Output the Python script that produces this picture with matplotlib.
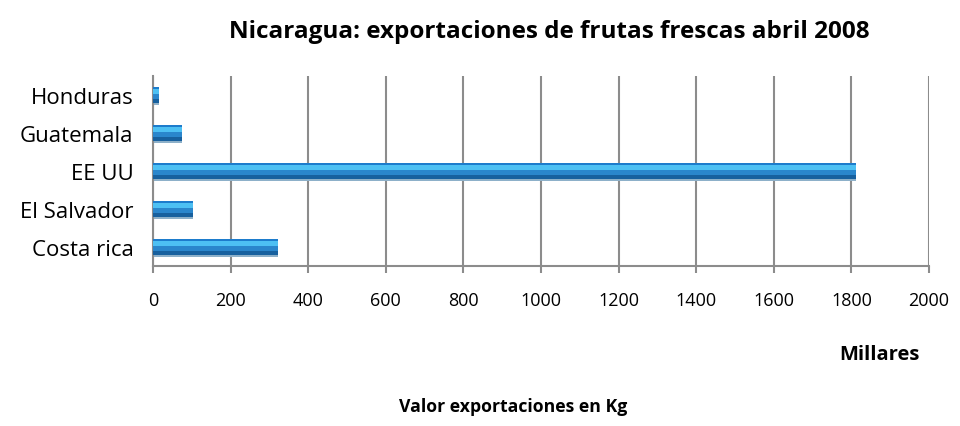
import numpy as np
import matplotlib.pyplot as plt

plt.rcParams['font.family'] = ['Open Sans', 'DejaVu Sans']

countries = ['Costa rica', 'El Salvador', 'EE UU', 'Guatemala', 'Honduras']
values = [323, 102, 1813, 76, 16]
xticks = [0, 200, 400, 600, 800, 1000, 1200, 1400, 1600, 1800, 2000]

fig = plt.figure(figsize=(9.6, 4.27), dpi=100)
ax = fig.add_axes([153 / 960, 1 - 267 / 427, 776 / 960, 190 / 427])

y = np.arange(len(countries))
h = 0.42
# shadow + stacked bands to fake the bevelled 3D bars
ax.barh(y - 0.06, values, height=h, color='#8db0c9', zorder=2)
ax.barh(y, values, height=h, color='#17609e', zorder=3)
ax.barh(y + 0.05, values, height=0.32, color='#2a86cc', zorder=4)
ax.barh(y + 0.1, values, height=0.16, color='#4dc0f3', zorder=5)
ax.barh(y + 0.19, values, height=0.04, color='#1d7ccc', zorder=6)

ax.set_xlim(0, 2000)
ax.set_ylim(-0.5, 4.5)
ax.set_xticks(xticks)
ax.set_xticklabels([str(v) for v in xticks], fontsize=13)
ax.set_yticks(y)
ax.set_yticklabels(countries, fontsize=16)
ax.tick_params(axis='y', length=0, pad=14)
ax.tick_params(axis='x', length=5, color='#8c8c8c', width=1.5, pad=13)

ax.grid(axis='x', color='#8c8c8c', linewidth=1.5, zorder=0)
ax.set_axisbelow(True)
for s in ['top', 'right']:
    ax.spines[s].set_visible(False)
for s in ['left', 'bottom']:
    ax.spines[s].set_color('#8c8c8c')
    ax.spines[s].set_linewidth(1.5)

fig.text(549 / 960, 1 - 32 / 427, 'Nicaragua: exportaciones de frutas frescas abril 2008',
         ha='center', va='center', fontsize=17.5, fontweight='bold')
fig.text(879 / 960, 1 - 355 / 427, 'Millares', ha='center', va='center',
         fontsize=14.5, fontweight='bold')
fig.text(513 / 960, 1 - 407 / 427, 'Valor exportaciones en Kg', ha='center', va='center',
         fontsize=12.7, fontweight='bold')

fig.savefig('out.png', dpi=100)
